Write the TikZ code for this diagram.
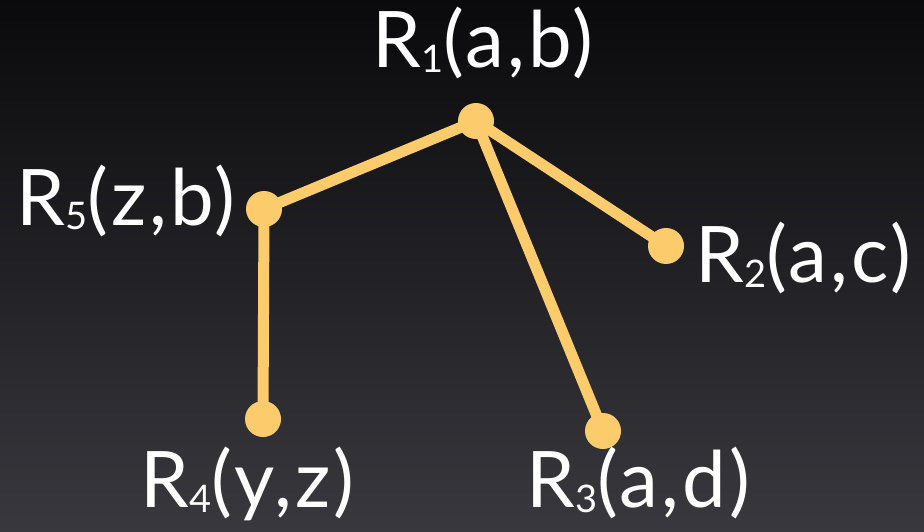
\documentclass[tikz,border=0pt]{standalone}
\usepackage{fontspec}
\setmainfont{Lato}[LetterSpace=4]
\usepackage{tikz}
\usetikzlibrary{positioning}
\definecolor{bgtop}{RGB}{10,10,12}
\definecolor{bgbottom}{RGB}{56,56,62}
\definecolor{dotyellow}{RGB}{252,203,107}
\newcommand{\rname}[2]{R\raisebox{-5pt}{\fontsize{38}{38}\selectfont #1}(#2)}

\begin{document}
\begin{tikzpicture}[
  x=1pt,y=-1pt,
  dot/.style={circle,fill=dotyellow,inner sep=0pt,minimum size=36pt},
  link/.style={draw=dotyellow,line width=11pt},
  rlabel/.style={text=white,inner sep=0pt,anchor=base west,
                 font=\fontsize{78}{78}\selectfont}
]
\shade[top color=bgtop,bottom color=bgbottom] (0,0) rectangle (924,532);
\coordinate (p1) at (476,121);
\coordinate (p2) at (666,246);
\coordinate (p3) at (603,431);
\coordinate (p4) at (263,419);
\coordinate (p5) at (264,209);
\draw[link] (p1) -- (p5);
\draw[link] (p1) -- (p2);
\draw[link] (p1) -- (p3);
\draw[link] (p5) -- (p4);
\node[dot] (r1) at (p1) {};
\node[dot] (r2) at (p2) {};
\node[dot] (r3) at (p3) {};
\node[dot] (r4) at (p4) {};
\node[dot] (r5) at (p5) {};
\node[rlabel] (l1) at (372,68) {\rname{1}{a,b}};
\node[rlabel] (l5) at (16,225) {\rname{5}{z,b}};
\node[rlabel] (l2) at (695,282) {\rname{2}{a,c}};
\node[rlabel] (l4) at (140,507) {\rname{4}{y,z}};
\node[rlabel] (l3) at (526,507) {\rname{3}{a,d}};
\end{tikzpicture}
\end{document}
